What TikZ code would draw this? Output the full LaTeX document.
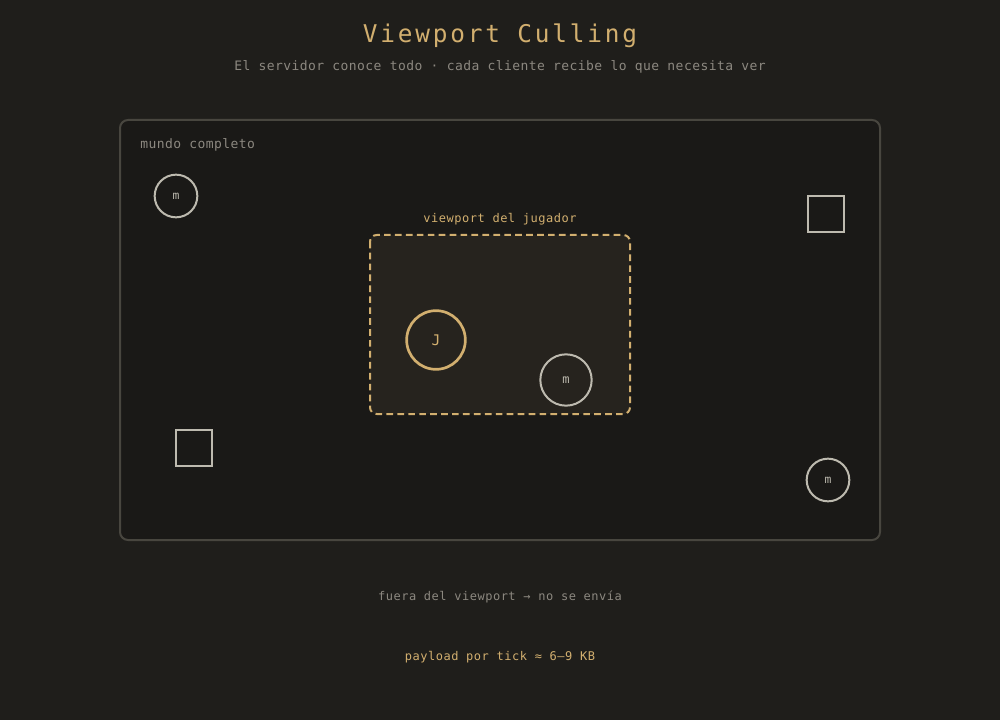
\documentclass[tikz,border=0pt]{standalone}
\usepackage{fontspec}
\setmonofont{DejaVu Sans Mono}
\definecolor{bg}{HTML}{1F1E1B}
\definecolor{worldfill}{HTML}{1A1917}
\definecolor{worldline}{HTML}{48463F}
\definecolor{gold}{HTML}{D2AF6F}
\definecolor{muted}{HTML}{8C8880}
\definecolor{ent}{HTML}{BDBAAF}
\definecolor{vpfill}{HTML}{26231E}
\tikzset{
  px/.style={x=0.75pt,y=-0.75pt},
  mob/.style={circle,draw=ent,line width=1.5pt,inner sep=0pt,text=ent,font=\ttfamily\fontsize{8.5pt}{10pt}\selectfont},
  sq/.style={rectangle,draw=ent,line width=1.5pt,inner sep=0pt,minimum size=27pt},
  lbl/.style={inner sep=0pt,font=\ttfamily\fontsize{9pt}{11pt}\selectfont\addfontfeature{LetterSpace=4.2}},
}
\begin{document}
\begin{tikzpicture}[px]
\useasboundingbox[fill=bg] (0,0) rectangle (1000,720);
% title
\node[inner sep=0pt,text=gold,font=\ttfamily\fontsize{18.3pt}{22pt}\selectfont\addfontfeature{LetterSpace=11.5}] (title) at (500,36) {Viewport Culling};
\node[inner sep=0pt,text=muted,font=\ttfamily\fontsize{9.75pt}{12pt}\selectfont\addfontfeature{LetterSpace=3.3}] (sub) at (500,67) {El servidor conoce todo · cada cliente recibe lo que necesita ver};
% world
\draw[fill=worldfill,draw=worldline,line width=1.5pt,rounded corners=6pt] (120,120) rectangle (880,540);
\node[anchor=west,inner sep=0pt,text=muted,font=\ttfamily\fontsize{9.75pt}{12pt}\selectfont\addfontfeature{LetterSpace=3.3}] (world) at (140,145) {mundo completo};
% viewport
\draw[fill=vpfill,draw=gold,line width=1.5pt,dash pattern=on 5pt off 3.2pt,rounded corners=5pt] (370,235) rectangle (630,414);
\node[lbl,text=gold] (vplabel) at (500,219) {viewport del jugador};
% entities
\node[circle,draw=gold,line width=2pt,inner sep=0pt,minimum size=44pt,text=gold,font=\ttfamily\fontsize{11pt}{13pt}\selectfont] (player) at (436,340) {J};
\node[mob,minimum size=38.5pt,font=\ttfamily\fontsize{9pt}{11pt}\selectfont] (mobin) at (566,380) {\raisebox{-1pt}{m}};
\node[mob,minimum size=32pt] (mobtl) at (176,196) {\raisebox{-1pt}{m}};
\node[mob,minimum size=32pt] (mobbr) at (828,480) {\raisebox{-1pt}{m}};
\node[sq] (boxtr) at (826,214) {};
\node[sq] (boxbl) at (194,448) {};
% footer
\node[lbl,text=muted] (outside) at (500,597) {fuera del viewport → no se envía};
\node[lbl,text=gold] (payload) at (500,657) {payload por tick ≈ 6–9 KB};
\end{tikzpicture}
\end{document}
